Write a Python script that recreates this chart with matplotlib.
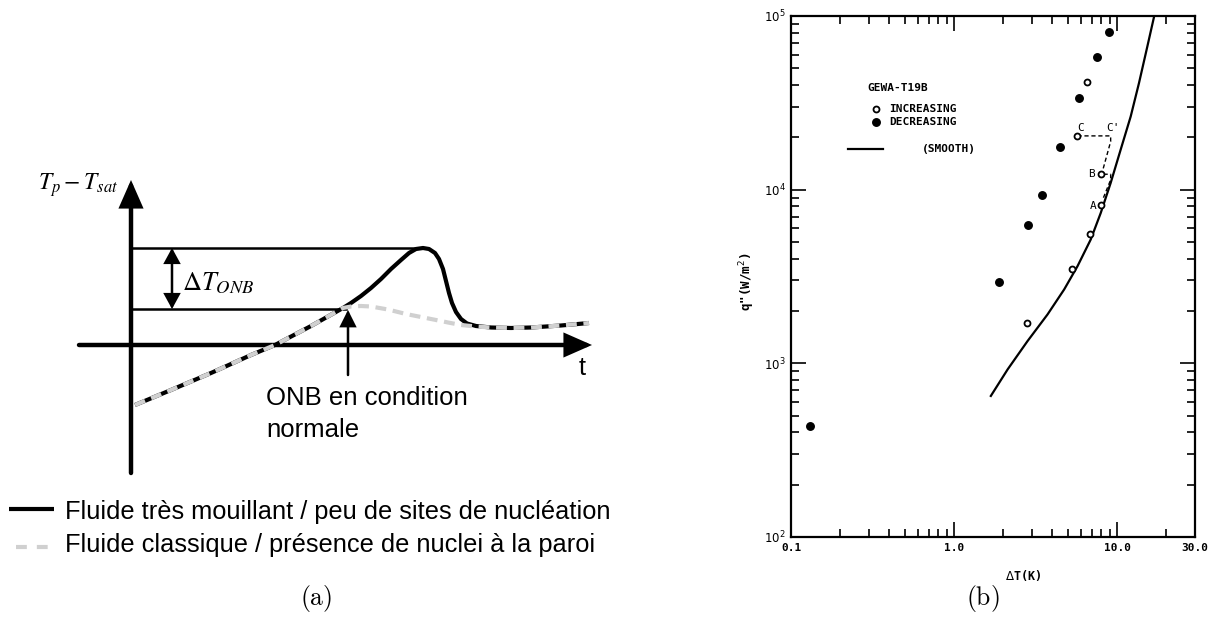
import matplotlib
matplotlib.use('Agg')
import matplotlib.pyplot as plt

# ---------------- panel (a): schematic, abstract units (t, Tp - Tsat) ----------------
t_wetting = [0.04, 0.40, 0.80, 1.20, 1.44, 1.80, 2.12, 2.20, 2.30, 2.40, 2.50, 2.60,
             2.70, 2.78, 2.85, 2.92, 2.98, 3.04, 3.08, 3.12, 3.15, 3.18, 3.21, 3.25,
             3.30, 3.36, 3.45, 3.60, 3.80, 4.00, 4.30, 4.58]
T_wetting = [-0.60, -0.45, -0.28, -0.10, 0.00, 0.19, 0.37, 0.42, 0.49, 0.57, 0.66, 0.76,
             0.85, 0.92, 0.96, 0.97, 0.96, 0.92, 0.86, 0.76, 0.64, 0.52, 0.42, 0.33,
             0.26, 0.215, 0.19, 0.175, 0.17, 0.175, 0.195, 0.22]
t_classic = [0.04, 0.40, 0.80, 1.20, 1.44, 1.80, 2.12, 2.20, 2.30, 2.40, 2.57, 2.75,
             2.90, 3.05, 3.17, 3.30, 3.45, 3.60, 3.80, 4.00, 4.30, 4.58]
T_classic = [-0.60, -0.45, -0.28, -0.10, 0.00, 0.19, 0.37, 0.385, 0.39, 0.385, 0.355, 0.31,
             0.28, 0.25, 0.225, 0.20, 0.185, 0.175, 0.17, 0.175, 0.195, 0.22]
T_peak = 0.97
T_onb = 0.36
t_peak = 2.92
t_onb = 2.15
legend_a = ["Fluide très mouillant / peu de sites de nucléation",
            "Fluide classique / présence de nuclei à la paroi"]

# ---------------- panel (b): GEWA-T19B boiling data ----------------
inc_dT = [2.80, 5.32, 6.82, 7.93, 7.93, 5.71, 6.57]
inc_q = [1714, 3500, 5530, 8190, 12270, 20400, 41800]
dec_dT = [0.13, 1.88, 2.84, 3.47, 4.45, 5.87, 7.57, 8.90]
dec_q = [436, 2950, 6270, 9330, 17700, 33800, 57900, 80500]
smooth_dT = [1.68, 2.13, 2.82, 3.74, 4.73, 5.71, 6.88, 7.93, 9.12, 10.5, 12.1, 13.6, 15.3, 16.8]
smooth_q = [649, 923, 1343, 1912, 2663, 3625, 5160, 7347, 10930, 16980, 26380, 41050, 66620, 98300]
pathCB_dT = [5.71, 9.12, 9.12, 8.12]
pathCB_q = [20400, 20400, 18950, 12740]
pathBA_dT = [8.25, 9.12, 9.12, 8.12]
pathBA_q = [12270, 12270, 11400, 8700]
point_labels = ['C', "C'", 'B', 'A']
point_label_dT = [5.95, 9.45, 7.0, 7.15]
point_label_q = [22700, 22700, 12300, 8000]
xtick_vals = [0.1, 1.0, 10.0, 30.0]
xtick_labels = ['0.1', '1.0', '10.0', '30.0']
ytick_vals = [1e2, 1e3, 1e4, 1e5]
ytick_labels = [r'$10^2$', r'$10^3$', r'$10^4$', r'$10^5$']

W, H = 1213, 632
fig = plt.figure(figsize=(W / 100, H / 100), dpi=100)
sans = ['Liberation Sans', 'DejaVu Sans']
mono = ['DejaVu Sans Mono', 'DejaVu Sans']

# ================= panel (a) =================
ax = fig.add_axes([0, 0, 640 / W, 1])
ax.set_xlim(-1.31, 5.09)
ax.set_ylim(-2.87, 3.45)
ax.axis('off')

def arrow(x0, y0, x1, y1, style, lw, ms):
    ax.annotate('', xy=(x1, y1), xytext=(x0, y0),
                arrowprops=dict(arrowstyle=style, lw=lw, color='black',
                                mutation_scale=ms, shrinkA=0, shrinkB=0,
                                joinstyle='miter'))

# axes arrows
arrow(0, -1.28, 0, 1.65, '-|>,head_length=0.75,head_width=0.33', 3.2, 20)
arrow(-0.52, 0, 4.61, 0, '-|>,head_length=0.75,head_width=0.33', 3.2, 20)
# level lines
ax.plot([0, t_peak], [T_peak, T_peak], color='black', lw=1.8)
ax.plot([0, t_onb], [T_onb, T_onb], color='black', lw=1.8)
# delta T arrow
arrow(0.41, T_onb, 0.41, T_peak, '<|-|>,head_length=0.55,head_width=0.3', 1.8, 16)
# ONB arrow
arrow(t_onb + 0.02, -0.30, t_onb + 0.02, T_onb - 0.01, '-|>,head_length=0.6,head_width=0.3', 1.8, 16)

# curves
ax.plot(t_wetting, T_wetting, color='black', lw=3.0, solid_capstyle='butt',
        solid_joinstyle='round', zorder=3)
ax.plot(t_classic, T_classic, color='#d0d0d0', lw=3.0, dashes=(2.6, 1.6),
        dash_capstyle='butt', zorder=4)

# texts
ax.text(-0.13, 1.60, r'$T_p - T_{sat}$', ha='right', va='center', fontsize=17,
        math_fontfamily='stix')
ax.text(0.51, 0.62, r'$\Delta T_{ONB}$', ha='left', va='center', fontsize=19,
        math_fontfamily='stix')
ax.text(4.51, -0.23, 't', ha='center', va='center', fontsize=18.3, family=sans)
ax.text(1.35, -0.53, 'ONB en condition', ha='left', va='center', fontsize=18.5, family=sans)
ax.text(1.35, -0.85, 'normale', ha='left', va='center', fontsize=18.5, family=sans)

# legend
ax.plot([-1.22, -0.77], [-1.64, -1.64], color='black', lw=3.0, solid_capstyle='butt')
ax.plot([-1.15, -0.77], [-2.02, -2.02], color='#d0d0d0', lw=3.0, dashes=(2.6, 2.4),
        dash_capstyle='butt')
ax.text(-0.66, -1.67, legend_a[0], ha='left', va='center', fontsize=18.3, family=sans)
ax.text(-0.66, -2.00, legend_a[1], ha='left', va='center', fontsize=18.3, family=sans)

fig.text(316 / W, 1 - 598 / H, r'$\mathrm{(a)}$', ha='center', va='center',
         fontsize=18.5, math_fontfamily='cm')
fig.text(983 / W, 1 - 598 / H, r'$\mathrm{(b)}$', ha='center', va='center',
         fontsize=18.5, math_fontfamily='cm')

# ================= panel (b) =================
x0, x1, ytop, ybot = 791, 1195, 16, 537
bx = fig.add_axes([x0 / W, 1 - ybot / H, (x1 - x0) / W, (ybot - ytop) / H])
bx.set_xscale('log')
bx.set_yscale('log')
bx.set_xlim(0.1, 30)
bx.set_ylim(1e2, 1e5)
for s in bx.spines.values():
    s.set_linewidth(1.6)

bx.plot(smooth_dT, smooth_q, color='black', lw=1.6)
bx.plot(pathCB_dT, pathCB_q, color='black', lw=1.0, dashes=(3, 2))
bx.plot(pathBA_dT, pathBA_q, color='black', lw=1.0, dashes=(3, 2))
bx.plot(dec_dT, dec_q, 'o', color='black', ms=5.4, ls='none')
bx.plot(inc_dT, inc_q, 'o', mfc='white', mec='black', mew=1.3, ms=4.3, ls='none')

for lab, xx, qq in zip(point_labels, point_label_dT, point_label_q):
    bx.text(xx, qq, lab, fontsize=8, family=mono, ha='center', va='center')

bx.set_xticks(xtick_vals)
bx.set_xticklabels(xtick_labels, fontsize=8, family=mono, fontweight='bold')
bx.set_yticks(ytick_vals)
bx.set_yticklabels(ytick_labels, fontsize=8.5)
bx.tick_params(which='both', direction='in', top=True, right=True, width=1.2)
bx.tick_params(which='major', length=11, pad=4)
bx.tick_params(which='minor', length=5.5)
bx.xaxis.set_minor_formatter(plt.NullFormatter())
bx.yaxis.set_minor_formatter(plt.NullFormatter())

bx.set_xlabel(r'$\Delta$T(K)', fontsize=8.5, family=mono, fontweight='bold')
bx.xaxis.set_label_coords(0.574, -0.06)
bx.set_ylabel(r'q"(W/m$^2$)', fontsize=9, family=mono, fontweight='bold')
bx.yaxis.set_label_coords(-0.084, 0.49)

# legend (hand placed like the original)
bx.text(0.19, 0.862, 'GEWA-T19B', transform=bx.transAxes, fontsize=8, family=mono,
        fontweight='bold', ha='left', va='center')
bx.plot([0.210], [0.821], 'o', transform=bx.transAxes, mfc='white', mec='black', mew=1.3, ms=4.3)
bx.plot([0.210], [0.796], 'o', transform=bx.transAxes, color='black', ms=5.4)
bx.text(0.243, 0.821, 'INCREASING', transform=bx.transAxes, fontsize=8, family=mono,
        fontweight='bold', ha='left', va='center')
bx.text(0.243, 0.796, 'DECREASING', transform=bx.transAxes, fontsize=8, family=mono,
        fontweight='bold', ha='left', va='center')
bx.plot([0.140, 0.228], [0.745, 0.745], transform=bx.transAxes, color='black', lw=1.6)
bx.text(0.324, 0.745, '(SMOOTH)', transform=bx.transAxes, fontsize=8, family=mono,
        fontweight='bold', ha='left', va='center')

fig.savefig('out.png', dpi=100)
